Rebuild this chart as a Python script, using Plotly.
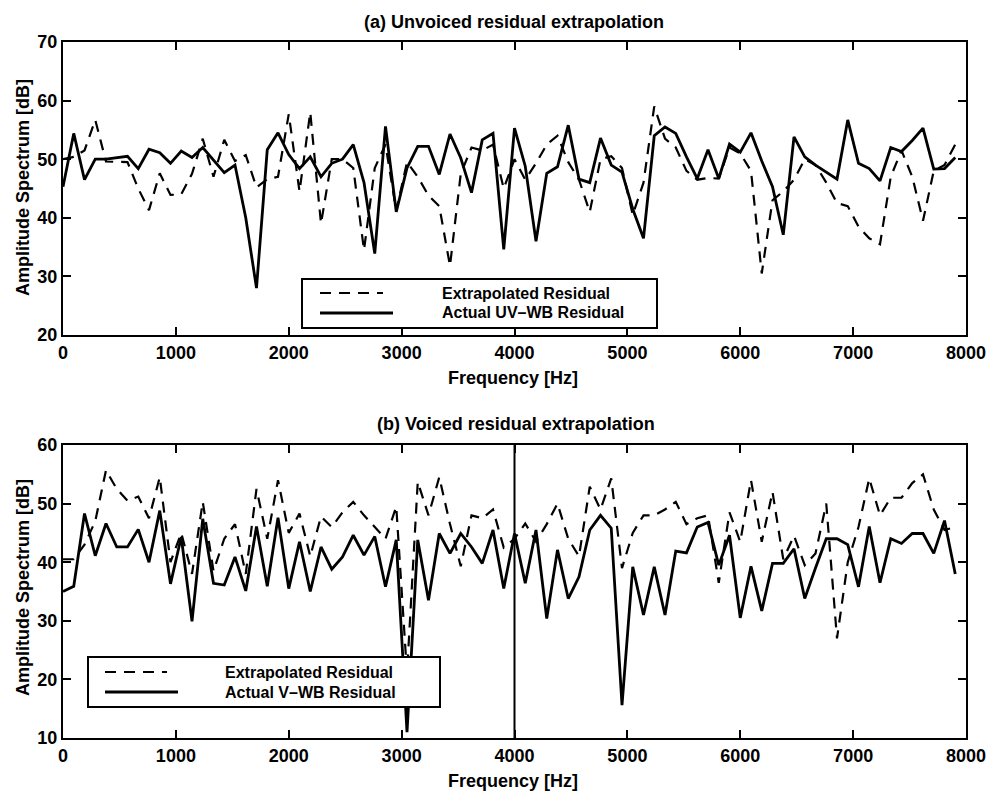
import plotly.graph_objects as go

# ---------------------------------------------------------------------------
# Spectra on 84 frequency bins covering 0-8000 Hz
# ---------------------------------------------------------------------------
BIN_HZ = 8000 / 84
N_BINS = 84
freq_hz = [k * BIN_HZ for k in range(N_BINS)]

# (a) unvoiced frame, amplitude in dB
uv_extrapolated = [
    50.0, 50.4, 51.5, 56.7, 49.6, 49.5, 49.5, 45.0, 41.3, 47.6,
    43.9, 44.0, 47.5, 53.5, 47.0, 53.3, 49.7, 50.7, 45.2, 46.6,
    47.0, 57.7, 44.5, 58.0, 39.0, 50.0, 50.0, 48.5, 34.5, 48.5,
    52.5, 41.2, 49.5, 47.0, 43.8, 42.0, 31.8, 47.5, 52.0, 51.5,
    52.5, 45.0, 50.0, 46.5, 49.3, 52.5, 54.0, 49.5, 46.5, 41.0,
    50.0, 50.5, 48.5, 40.5, 46.0, 59.0, 53.5, 52.0, 48.0, 46.5,
    46.8, 46.7, 52.0, 51.0, 48.0, 30.5, 43.0, 44.5, 46.5, 50.0,
    49.0, 46.0, 42.5, 42.0, 38.5, 36.5, 35.5, 47.0, 51.5, 47.0,
    39.5, 48.0, 49.0, 52.5,
]
uv_actual = [
    45.3, 54.4, 46.5, 50.0, 50.0, 50.3, 50.5, 48.4, 51.7, 51.1,
    49.3, 51.4, 50.3, 52.0, 49.8, 47.7, 49.0, 40.0, 28.0, 51.6,
    54.5, 50.8, 48.4, 50.4, 47.0, 49.3, 50.0, 52.5, 46.0, 33.9,
    55.6, 41.0, 48.5, 52.2, 52.2, 47.4, 54.3, 50.2, 44.3, 53.3,
    54.4, 34.6, 55.3, 48.8, 36.0, 47.6, 48.7, 55.8, 46.6, 46.0,
    53.6, 49.0, 47.8, 41.5, 36.5, 54.0, 55.5, 54.4, 50.4, 46.7,
    51.6, 46.7, 52.6, 51.2, 54.5, 49.7, 45.3, 37.1, 53.8, 50.4,
    49.0, 47.8, 46.6, 56.7, 49.3, 48.4, 46.3, 52.0, 51.3, 53.2,
    55.3, 48.3, 48.4, 50.3,
]

# (b) voiced frame, amplitude in dB
v_extrapolated = [
    40.5, 40.5, 43.0, 47.0, 55.7, 52.5, 50.5, 51.2, 47.5, 54.5,
    40.0, 45.0, 38.0, 50.3, 38.5, 44.0, 46.5, 38.0, 52.5, 44.0,
    54.0, 45.0, 48.3, 41.0, 47.8, 46.0, 48.5, 50.3, 48.0, 46.0,
    44.0, 49.5, 21.0, 53.7, 48.0, 54.5, 46.5, 39.3, 48.0, 47.5,
    49.0, 42.5, 44.0, 46.6, 43.5, 46.5, 50.0, 44.0, 41.0, 52.9,
    49.0, 54.3, 39.0, 45.0, 48.0, 48.0, 49.0, 50.3, 46.5, 47.5,
    48.0, 36.5, 48.5, 43.5, 54.0, 43.5, 52.0, 40.5, 44.5, 39.5,
    41.5, 50.0, 27.0, 40.0, 46.0, 54.3, 48.0, 51.0, 51.0, 53.5,
    55.0, 49.0, 45.5, 46.0,
]
v_actual = [
    35.0, 35.9, 48.3, 41.1, 46.6, 42.6, 42.6, 45.6, 40.0, 48.8,
    36.3, 44.3, 29.9, 47.4, 36.4, 36.1, 40.9, 35.1, 46.1, 35.9,
    47.6, 35.5, 43.5, 35.0, 42.6, 38.8, 40.9, 44.6, 41.2, 44.4,
    35.8, 43.8, 11.0, 43.8, 33.5, 44.9, 41.5, 44.9, 42.6, 39.8,
    45.5, 35.5, 44.9, 36.4, 45.5, 30.4, 42.1, 33.8, 37.5, 45.5,
    48.0, 45.8, 15.6, 39.2, 31.0, 39.2, 31.0, 41.9, 41.6, 46.0,
    46.8, 39.5, 44.6, 30.5, 39.3, 31.7, 39.8, 39.8, 42.3, 33.8,
    39.0, 44.0, 44.0, 43.0, 35.8, 46.1, 36.5, 44.0, 43.2, 44.9,
    44.9, 41.5, 47.1, 38.0,
]

band_split_hz = 4000

x_ticks = [0, 1000, 2000, 3000, 4000, 5000, 6000, 7000, 8000]
ya_ticks = [20, 30, 40, 50, 60, 70]
yb_ticks = [10, 20, 30, 40, 50, 60]

panel_titles = ["(a) Unvoiced residual extrapolation",
                "(b) Voiced residual extrapolation"]
legend_labels_a = ["Extrapolated Residual", "Actual UV\u2013WB Residual"]
legend_labels_b = ["Extrapolated Residual", "Actual V\u2013WB Residual"]

# ---------------------------------------------------------------------------
# Page geometry (pixels) and helpers
# ---------------------------------------------------------------------------
W, H = 995, 798
FONT = "Liberation Sans, Arial, Helvetica, sans-serif"
FONT_SIZE = 18
LEGEND_FONT_SIZE = 16
INK = "black"


def fx(px):
    return px / W


def fy(py):
    return 1 - py / H


def font(size=FONT_SIZE):
    return dict(family=FONT, size=size, color=INK, weight="bold")


X_LEFT, X_RIGHT = 63, 966
A_TOP, A_BOTTOM = 42, 335
B_TOP, B_BOTTOM = 445, 738

DASH = "11px,8px"

fig = go.Figure()

fig.add_trace(go.Scatter(x=freq_hz, y=uv_extrapolated, mode="lines",
                         line=dict(color=INK, width=2.2, dash=DASH),
                         xaxis="x", yaxis="y", showlegend=False,
                         name=legend_labels_a[0]))
fig.add_trace(go.Scatter(x=freq_hz, y=uv_actual, mode="lines",
                         line=dict(color=INK, width=2.8),
                         xaxis="x", yaxis="y", showlegend=False,
                         name=legend_labels_a[1]))
fig.add_trace(go.Scatter(x=freq_hz, y=v_extrapolated, mode="lines",
                         line=dict(color=INK, width=2.2, dash=DASH),
                         xaxis="x2", yaxis="y2", showlegend=False,
                         name=legend_labels_b[0]))
fig.add_trace(go.Scatter(x=freq_hz, y=v_actual, mode="lines",
                         line=dict(color=INK, width=2.8),
                         xaxis="x2", yaxis="y2", showlegend=False,
                         name=legend_labels_b[1]))

axis_common = dict(
    showline=True, linecolor=INK, linewidth=2, mirror="ticks",
    ticks="inside", ticklen=8, tickwidth=1.5, tickcolor=INK,
    showgrid=False, zeroline=False, automargin=False,
    tickfont=font(),
)

x_domain = [fx(X_LEFT), fx(X_RIGHT)]

fig.update_layout(
    width=W, height=H,
    margin=dict(l=0, r=0, t=0, b=0),
    paper_bgcolor="white", plot_bgcolor="white",
    showlegend=False,
    xaxis=dict(domain=x_domain, range=[0, 8000], tickvals=x_ticks,
               anchor="y", **axis_common),
    yaxis=dict(domain=[fy(A_BOTTOM), fy(A_TOP)], range=[20, 70],
               tickvals=ya_ticks, anchor="x", **axis_common),
    xaxis2=dict(domain=x_domain, range=[0, 8000], tickvals=x_ticks,
                anchor="y2", **axis_common),
    yaxis2=dict(domain=[fy(B_BOTTOM), fy(B_TOP)], range=[10, 60],
                tickvals=yb_ticks, anchor="x2", **axis_common),
)

shapes = []
annotations = []

# Marker of the 4 kHz band split in the voiced panel
shapes.append(dict(type="line", xref="x2", yref="y2 domain",
                   x0=band_split_hz, x1=band_split_hz, y0=0, y1=1,
                   line=dict(color=INK, width=2)))


def text(x, y, s, size=FONT_SIZE, xanchor="center", **kw):
    annotations.append(dict(x=fx(x), y=fy(y), xref="paper", yref="paper",
                            text=s, showarrow=False,
                            xanchor=xanchor, yanchor="middle",
                            font=font(size), **kw))


# Panel titles and axis titles
text(514, 22, panel_titles[0])
text(516, 424, panel_titles[1])
text(513, 378, "Frequency [Hz]")
text(513, 781, "Frequency [Hz]")
text(23, 188, "Amplitude Spectrum [dB]", textangle=-90)
text(23, 588, "Amplitude Spectrum [dB]", textangle=-90)


def draw_legend(box, sample_x0, sample_ends, rows_y, text_x, labels):
    x0, y0, x1, y1 = box
    shapes.append(dict(type="rect", xref="paper", yref="paper",
                       x0=fx(x0), x1=fx(x1), y0=fy(y1), y1=fy(y0),
                       fillcolor="white", line=dict(color=INK, width=2),
                       layer="above"))
    for (end, ry, dash, lw) in zip(sample_ends, rows_y,
                                   [DASH, "solid"], [2.2, 2.8]):
        shapes.append(dict(type="line", xref="paper", yref="paper",
                           x0=fx(sample_x0), x1=fx(end), y0=fy(ry), y1=fy(ry),
                           line=dict(color=INK, width=lw, dash=dash),
                           layer="above"))
    for label, ry in zip(labels, rows_y):
        text(text_x, ry, label, size=LEGEND_FONT_SIZE, xanchor="left")


draw_legend((302, 279, 657, 328), 320, [383, 393], [293, 313], 440,
            legend_labels_a)
draw_legend((88, 657, 440, 707), 105, [167, 178], [672, 692], 223,
            legend_labels_b)

fig.update_layout(shapes=shapes, annotations=annotations)

fig.write_html("out.html")
